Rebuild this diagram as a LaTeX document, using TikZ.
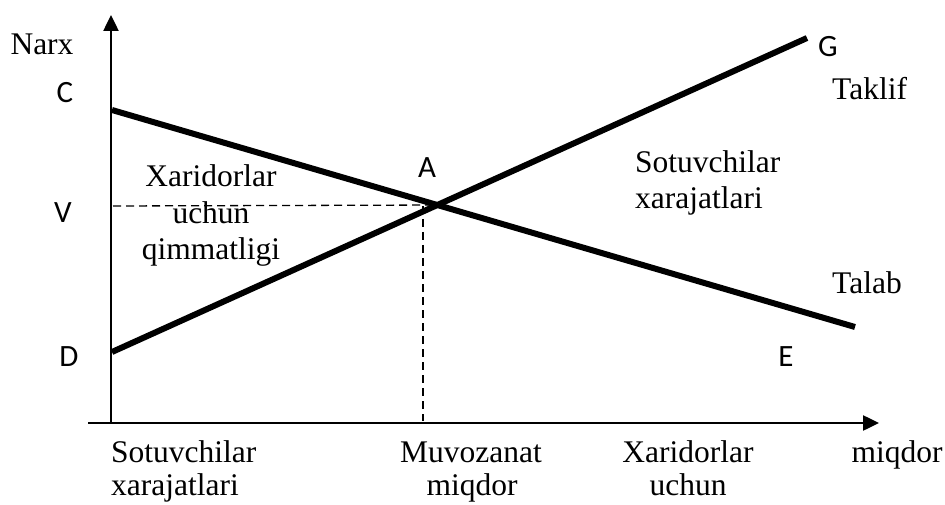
\documentclass[tikz,border=0pt]{standalone}
\usepackage{fontspec}
\setmainfont{Liberation Serif}
\newfontfamily\lettfont{Carlito}
\usetikzlibrary{arrows.meta}
\begin{document}
\begin{tikzpicture}[x=1pt,y=-1pt,
  lbl/.style={font=\fontsize{31.5}{36}\selectfont, inner sep=0pt, anchor=base},
  ltr/.style={font=\lettfont\fontsize{31}{36}\selectfont, inner sep=0pt},
  axisline/.style={line width=2.5pt, -{Triangle[length=16pt,width=15pt]}},
  curveline/.style={line width=6pt},
  guide/.style={line width=1.3pt, dash pattern=on 8pt off 5pt}]
\useasboundingbox (0,0) rectangle (945,505);
% axes
\coordinate (O) at (111,423);
\coordinate (ytop) at (111,15);
\coordinate (xstart) at (88,423);
\coordinate (xend) at (879,423);
\draw[axisline] (O) -- (ytop);
\draw[axisline] (xstart) -- (xend);
% curves
\coordinate (C0) at (112,110);
\coordinate (E0) at (855,327);
\coordinate (D0) at (112,352);
\coordinate (G0) at (807,38);
\draw[curveline] (C0) -- (E0);
\draw[curveline] (D0) -- (G0);
\coordinate (A0) at (intersection of C0--E0 and D0--G0);
% guides
\coordinate (Vl) at (113,206);
\coordinate (Va) at (423,206);
\coordinate (Vb) at (423,421);
\draw[guide] (Vl) -- (A0);
\draw[guide] (Va) -- (Vb);
% letters
\node[ltr] (lC) at (65,93) {C};
\node[ltr] (lV) at (63,213) {V};
\node[ltr] (lD) at (69,357) {D};
\node[ltr] (lA) at (427,168) {A};
\node[ltr] (lE) at (786,357) {E};
\node[ltr] (lG) at (828,47) {G};
% labels
\node[lbl] (narx) at (42,55) {Narx};
\node[lbl, anchor=base west] (taklif) at (832,100) {Taklif};
\node[lbl, anchor=base west] (talab) at (832,293) {Talab};
\node[lbl, anchor=base west] (sx1) at (635,173) {Sotuvchilar};
\node[lbl, anchor=base west] (sx2) at (635,209) {xarajatlari};
\node[lbl] (xq1) at (211,187) {Xaridorlar};
\node[lbl] (xq2) at (211,223) {uchun};
\node[lbl] (xq3) at (211,259) {qimmatligi};
\node[lbl, anchor=base west] (bs1) at (111,462) {Sotuvchilar};
\node[lbl, anchor=base west] (bs2) at (111,495) {xarajatlari};
\node[lbl] (bm1) at (471,462) {Muvozanat};
\node[lbl] (bm2) at (472,495) {miqdor};
\node[lbl] (bx1) at (688,462) {Xaridorlar};
\node[lbl] (bx2) at (688,495) {uchun};
\node[lbl] (bq) at (897,462) {miqdor};
\end{tikzpicture}
\end{document}
